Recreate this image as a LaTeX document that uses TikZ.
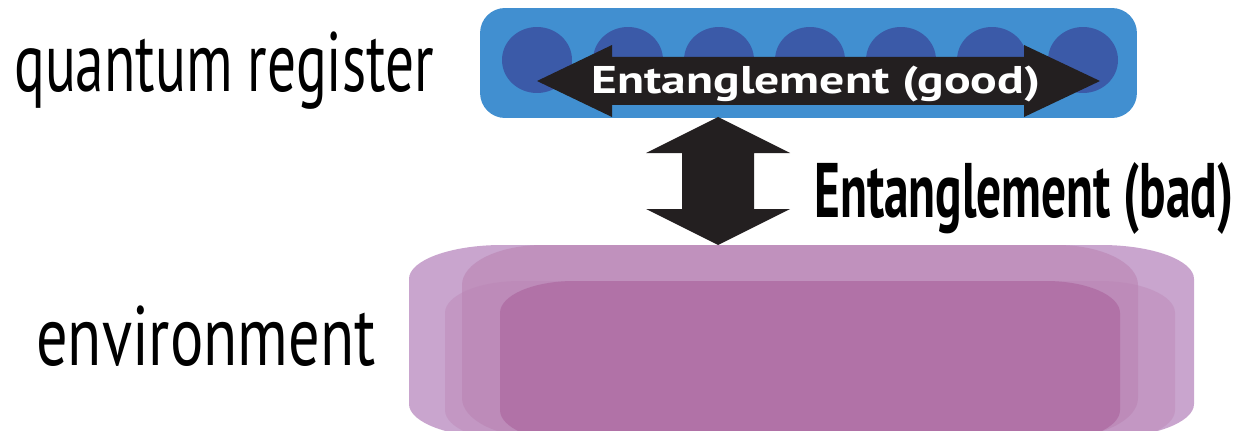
\documentclass[tikz,border=0pt]{standalone}
\usepackage{fontspec}
\setmainfont{PT Sans}
\usetikzlibrary{calc,shapes.geometric}

\definecolor{regblue}{RGB}{65,143,208}
\definecolor{qubitblue}{RGB}{59,90,168}
\definecolor{arrowblack}{RGB}{35,31,32}
\definecolor{envlight}{RGB}{201,165,206}
\definecolor{envmid}{RGB}{186,132,179}
\definecolor{envdark}{RGB}{172,104,160}

% slab with elliptic corners: x1, y1, x2, y2, rx, ry, fill options
\newcommand{\envslab}[7]{%
  \fill[#7] (#1,{#2+#6}) -- (#1,{#4-#6})
    arc[start angle=180, end angle=90, x radius=#5, y radius=#6] -- ({#3-#5},#4)
    arc[start angle=90, end angle=0, x radius=#5, y radius=#6] -- (#3,{#2+#6})
    arc[start angle=0, end angle=-90, x radius=#5, y radius=#6] -- ({#1+#5},#2)
    arc[start angle=270, end angle=180, x radius=#5, y radius=#6] -- cycle;}

\begin{document}
\begin{tikzpicture}[x=0.02cm, y=0.02cm,
    regbox/.style={rounded corners=0.5cm, fill=regblue, minimum width=13.14cm,
      minimum height=2.2cm, inner sep=0},
    qubit/.style={ellipse, fill=qubitblue, minimum width=1.4cm, minimum height=1.32cm,
      inner sep=0},
    lbl/.style={inner sep=0, font=\fontsize{48pt}{50pt}\selectfont},
    arrowlbl/.style={inner sep=0, font=\bfseries\fontsize{44pt}{46pt}\selectfont}]
  \useasboundingbox (0,0) rectangle (1237,430);

  % environment: four overlapping translucent slabs
  \envslab{409}{-8}{1194}{185}{93}{34}{envlight}
  \envslab{462}{-8}{1138}{185}{81}{40}{envmid, fill opacity=0.6}
  \envslab{445}{-12}{1175}{149}{75}{32}{envmid, fill opacity=0.4}
  \envslab{500}{-12}{1120}{149}{74}{32}{envdark, fill opacity=0.7}

  % quantum register with seven qubits
  \node[regbox] (reg) at (808.5,367) {};
  \foreach \i in {0,...,6}
    \node[qubit] (q\i) at ({537+91*\i},370) {};

  % good entanglement: block arrow across the register
  \coordinate (gl) at (537,349);
  \coordinate (gr) at (1100,349);
  \fill[arrowblack] (gl) -- ++(75,36) |- ($(gr)+(-76,24)$) -- ++(0,12) -- (gr)
    -- ++(-76,-36) |- ($(gl)+(75,-24)$) -- ++(0,-12) -- cycle;
  \node[arrowlbl, font=\bfseries\fontsize{22pt}{24pt}\selectfont, white,
    anchor=base, xscale=1.285] (lblgood) at (816,337) {Entanglement (good)};

  % bad entanglement: block arrow between register and environment
  \coordinate (bt) at (718,313);
  \coordinate (bb) at (718,185);
  \fill[arrowblack] (bt) -- ++(72,-36) -| ($(bb)+(36,36)$) -- ++(36,0) -- (bb)
    -- ++(-72,36) -| ($(bt)+(-36,-36)$) -- ++(-36,0) -- cycle;
  \node[arrowlbl, anchor=base west, xscale=0.64] (lblbad) at (814,213)
    {Entanglement (bad)};

  % side labels
  \node[lbl, anchor=base west, xscale=0.68] (lblreg) at (14,338) {quantum register};
  \node[lbl, anchor=base west, xscale=0.74] (lblenv) at (36,65) {environment};
\end{tikzpicture}
\end{document}
